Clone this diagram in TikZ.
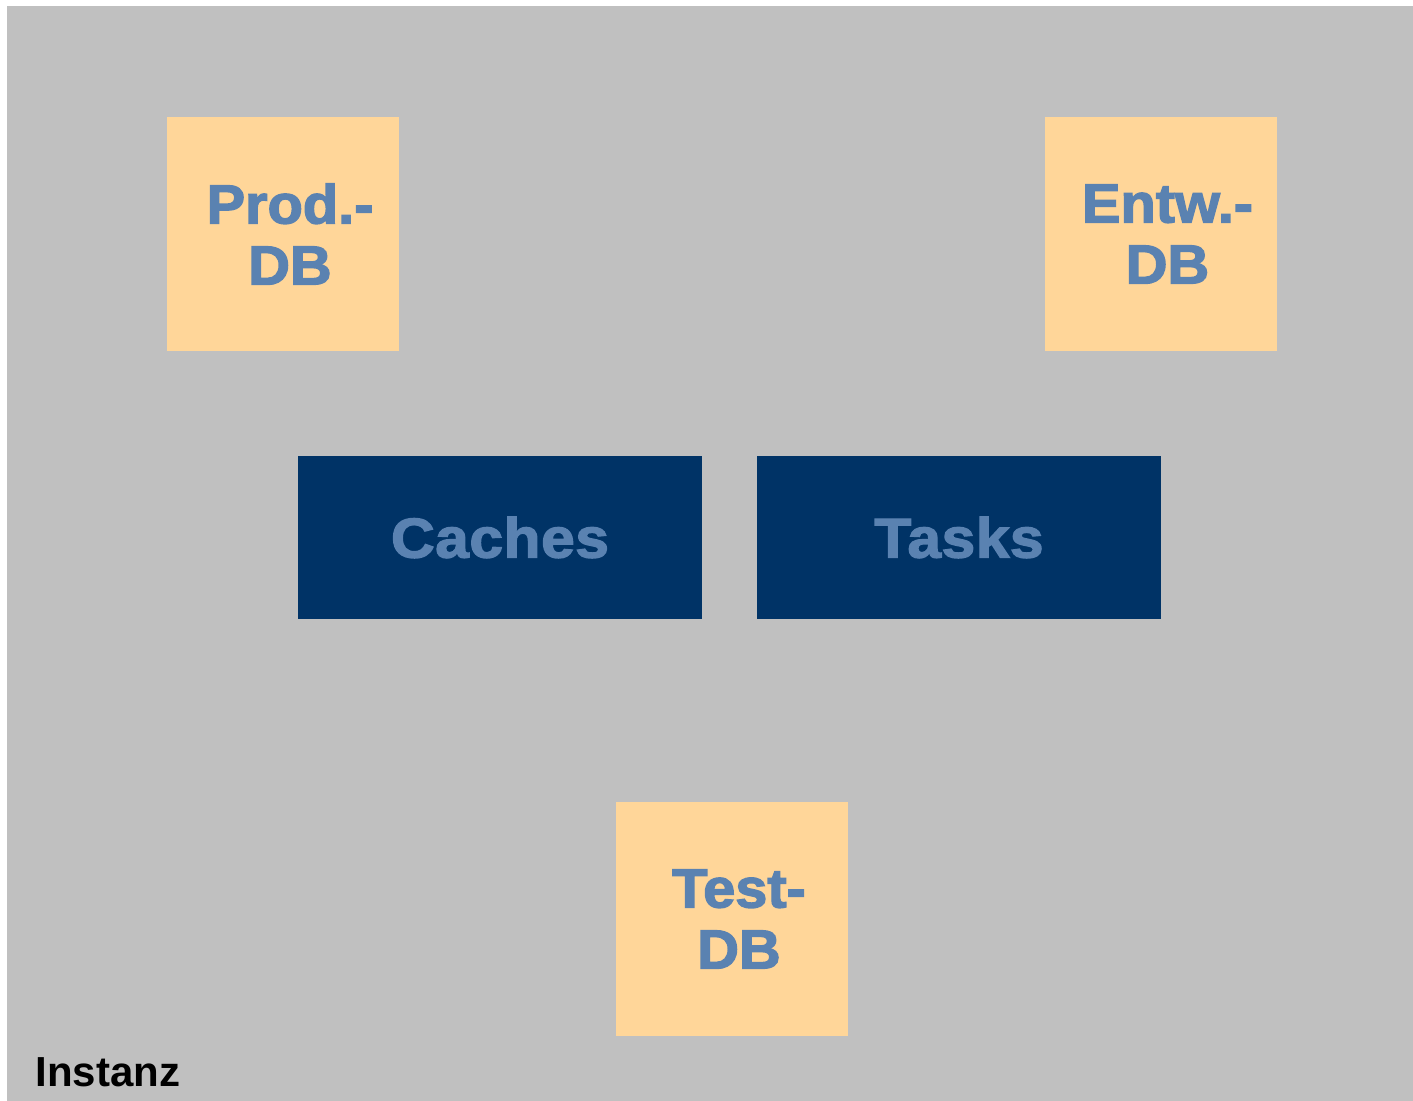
\documentclass[tikz,border=0pt]{standalone}
\usepackage{fontspec}
\setmainfont{Liberation Sans}
\newfontfamily\heavyfont[RawFeature={embolden=2.5}, FakeStretch=1.05]{Liberation Sans Bold}
\newfontfamily\widefont[RawFeature={embolden=2.5}, FakeStretch=1.08, LetterSpace=1]{Liberation Sans Bold}
\definecolor{bggrey}{HTML}{C0C0C0}
\definecolor{dbfill}{HTML}{FFD699}
\definecolor{navy}{HTML}{003366}
\definecolor{txtblue}{HTML}{5A82B1}
\tikzset{
  dbbox/.style={rectangle, fill=dbfill, draw=none, inner sep=0pt, minimum width=116pt, minimum height=117pt},
  modbox/.style={rectangle, fill=navy, draw=none, inner sep=0pt, minimum width=202pt, minimum height=81.5pt,
    text=txtblue, font=\widefont\fontsize{28}{30}\selectfont},
  dbtext/.style={text=txtblue, align=center, inner sep=0pt, font=\heavyfont\fontsize{27.5}{30.5}\selectfont},
  caption/.style={anchor=base west, inner sep=0pt, font=\bfseries\fontsize{21}{24}\selectfont}
}
\begin{document}
\begin{tikzpicture}[x=0.5pt,y=-0.5pt]
\useasboundingbox (0,0) rectangle (1413,1101);
\fill[white] (0,0) rectangle (1413,1101);
\fill[bggrey] (7,6) rectangle (1413,1101);
\node[dbbox] (prod) at (283,234) {};
\node[dbbox] (entw) at (1160.5,234) {};
\node[dbbox] (test) at (732,919) {};
\node[dbtext] (prodt) at ([xshift=3.5pt]prod.center) {Prod.-\\DB};
\node[dbtext] (entwt) at ([xshift=3.5pt]entw.center) {Entw.-\\DB};
\node[dbtext] (testt) at ([xshift=3.5pt]test.center) {Test-\\DB};
\node[modbox] (caches) at (500,537.5) {Caches};
\node[modbox] (tasks) at (959,537.5) {Tasks};
\node[caption] (inst) at (35,1086) {Instanz};
\end{tikzpicture}
\end{document}
